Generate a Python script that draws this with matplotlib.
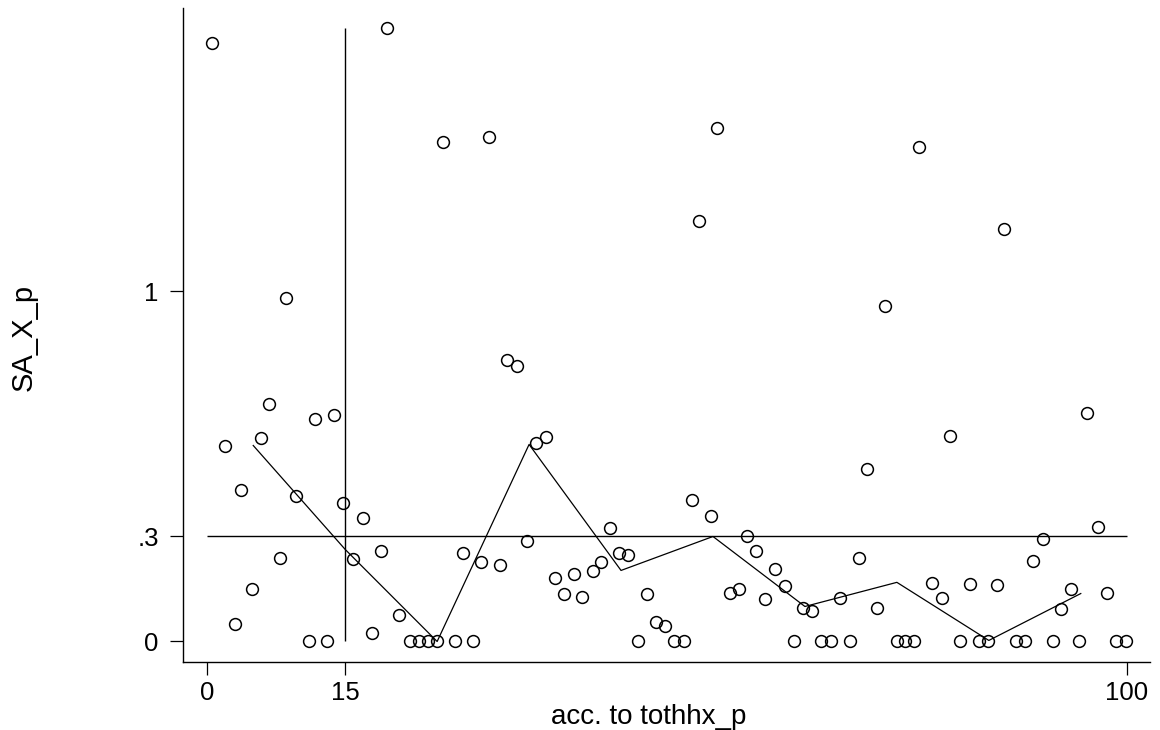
import matplotlib
matplotlib.use("Agg")
import matplotlib.pyplot as plt

plt.rcParams['font.family'] = ['Liberation Sans', 'DejaVu Sans']

# scatter data: percentile rank vs SA_X_p
x_pct = [0.5, 1.9, 3.0, 3.7, 4.9, 5.8, 6.7, 7.9, 8.6, 9.7,
         11.1, 11.7, 13.0, 13.75, 14.8, 15.9, 16.9, 17.9, 18.9, 19.5,
         20.85, 22.0, 23.0, 24.0, 25.0, 25.6, 26.9, 27.8, 28.9, 29.8,
         30.6, 31.8, 32.6, 33.65, 34.8, 35.75, 36.8, 37.8, 38.8, 39.9,
         40.8, 41.9, 42.8, 43.8, 44.8, 45.8, 46.85, 47.8, 48.8, 49.8,
         50.8, 51.8, 52.7, 53.5, 54.75, 55.4, 56.8, 57.8, 58.7, 59.7,
         60.7, 61.7, 62.8, 63.8, 64.8, 65.8, 66.75, 67.8, 68.8, 69.9,
         70.85, 71.75, 72.8, 73.7, 75.0, 75.9, 76.9, 77.45, 78.8, 79.9,
         80.8, 81.9, 82.9, 83.9, 84.95, 85.9, 86.6, 88.0, 88.9, 89.8,
         90.9, 91.95, 92.8, 93.9, 94.85, 95.65, 96.85, 97.9, 98.85, 99.9]
sa_x_p = [1.711, 0.559, 0.050, 0.433, 0.149, 0.582, 0.679, 0.239, 0.982, 0.416,
          0.0, 0.636, 0.0, 0.647, 0.395, 0.236, 0.352, 0.024, 0.259, 1.752,
          0.077, 0.0, 0.0, 0.0, 0.0, 1.428, 0.0, 0.252, 0.0, 0.228,
          1.441, 0.218, 0.805, 0.788, 0.287, 0.566, 0.583, 0.181, 0.136, 0.192,
          0.126, 0.201, 0.228, 0.325, 0.252, 0.247, 0.0, 0.135, 0.057, 0.044,
          0.0, 0.0, 0.404, 1.202, 0.359, 1.466, 0.139, 0.149, 0.301, 0.259,
          0.121, 0.207, 0.159, 0.0, 0.095, 0.087, 0.0, 0.0, 0.123, 0.0,
          0.239, 0.493, 0.097, 0.959, 0.0, 0.0, 0.0, 1.414, 0.168, 0.123,
          0.588, 0.0, 0.163, 0.0, 0.0, 0.161, 1.179, 0.0, 0.0, 0.231,
          0.293, 0.0, 0.093, 0.150, 0.0, 0.652, 0.328, 0.138, 0.0, 0.0]

# median band line
band_x = [5, 15, 25, 35, 45, 55, 65, 75, 85, 95]
band_y = [0.56, 0.263, 0.0, 0.563, 0.203, 0.30, 0.10, 0.169, 0.003, 0.137]

ref_x = 15
ref_y = 0.3

xticks = [0, 15, 100]
xticklabels = ["0", "15", "100"]
yticks = [0, 0.3, 1]
yticklabels = ["0", ".3", "1"]

fig = plt.figure(figsize=(11.6, 7.3), dpi=100)
ax = fig.add_axes([183/1160, 1-662/730, (1150-183)/1160, (662-8)/730])

ax.plot(x_pct, sa_x_p, 'o', mfc='none', mec='black', ms=8.5, mew=1.1, zorder=3)
ax.plot(band_x, band_y, color='black', lw=0.9, zorder=2)
ax.hlines(ref_y, 0, 100, color='black', lw=1.0)
ax.vlines(ref_x, 0, max(sa_x_p), color='black', lw=1.0)

ax.set_xlim(-2.64, 102.53)
ax.set_ylim(-0.0586, 1.81)

for s in ['top', 'right']:
    ax.spines[s].set_visible(False)
for s in ['left', 'bottom']:
    ax.spines[s].set_linewidth(1.0)

ax.set_xticks(xticks)
ax.set_xticklabels(xticklabels)
ax.set_yticks(yticks)
ax.set_yticklabels(yticklabels)
ax.tick_params(axis='both', direction='out', length=9.4, width=0.9,
               labelsize=18.5)
ax.tick_params(axis='x', pad=4)
ax.tick_params(axis='y', pad=8)

ax.set_xlabel("acc. to tothhx_p", fontsize=20, va='center')
ax.xaxis.set_label_coords((649-183)/967, (662-717)/654)
ax.set_ylabel("SA_X_p", fontsize=21, va='center')
ax.yaxis.set_label_coords((24-183)/967, (662-337)/654)

fig.savefig("out.png", dpi=100)
